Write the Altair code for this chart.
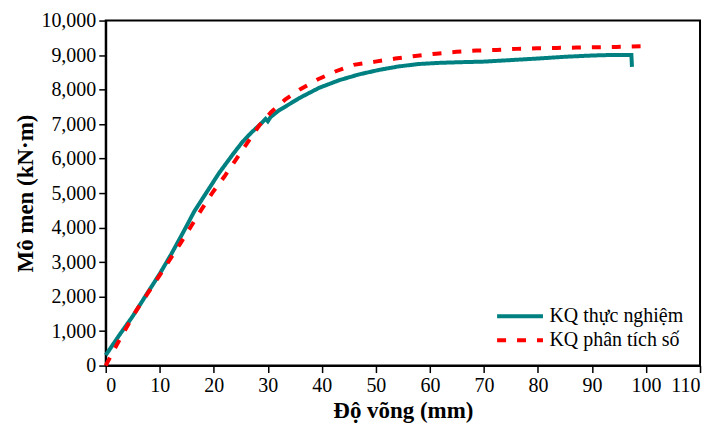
import altair as alt
import pandas as pd

# Experimental curve (teal, solid)
exp_x = [0, 2.6, 5.0, 7.5, 10.0, 12.1, 14.3, 16.4, 18.6, 21.0, 23.5, 25.3, 27.0, 28.4, 29.6, 30.0,
         30.5, 32.1, 33.5, 35.8, 39.5, 43.2, 46.9, 50.6, 54.2, 57.9, 61.6, 65.3, 70.0, 74.5, 80.0,
         85.0, 89.9, 93.0, 97.3, 97.4]
exp_y = [300, 900, 1430, 2050, 2660, 3220, 3850, 4470, 5005, 5585, 6116, 6480, 6760, 6960, 7150, 7080,
         7200, 7400, 7530, 7750, 8050, 8270, 8440, 8570, 8670, 8740, 8773, 8792, 8810, 8850, 8900,
         8950, 8986, 9000, 9000, 8660]

# Numerical analysis curve (red, dashed)
num_x = [0, 2.0, 3.8, 5.66, 7.7, 9.8, 11.8, 13.8, 15.8, 17.8, 19.8, 22.0, 24.1, 26.3, 28.4, 30.6,
         33.2, 36.1, 39.2, 42.6, 45.9, 49.9, 53.6, 57.3, 61.2, 64.9, 68.6, 72.3, 76.0, 79.8, 83.5,
         87.1, 90.8, 94.5, 99.0]
num_y = [0, 590, 1090, 1594, 2077, 2570, 3053, 3536, 4038, 4541, 5023, 5487, 5971, 6473, 6957, 7342,
         7710, 8019, 8290, 8531, 8715, 8810, 8898, 8975, 9040, 9093, 9130, 9150, 9179, 9197, 9208,
         9217, 9226, 9237, 9255]

series_names = ["KQ thực nghiệm", "KQ phân tích số"]
series_colors = ["#008080", "#FF0000"]
x_ticks = list(range(0, 111, 10))
y_ticks = list(range(0, 10001, 1000))

df = pd.concat([
    pd.DataFrame({"x": exp_x, "y": exp_y, "s": series_names[0], "o": list(range(len(exp_x)))}),
    pd.DataFrame({"x": num_x, "y": num_y, "s": series_names[1], "o": list(range(len(num_x)))}),
], ignore_index=True)

FONT = "Liberation Serif"

legend_props = dict(
    title=None, orient="none", legendX=402, legendY=283,
    symbolType="M-2,0H2", symbolSize=529, symbolStrokeWidth=4,
    symbolFillColor="transparent",
    labelFontSize=20, labelFont=FONT, labelColor="black", labelOffset=16,
    rowPadding=0, padding=0,
)

chart = alt.Chart(df).mark_line(strokeWidth=4, strokeCap="butt").encode(
    x=alt.X("x:Q", scale=alt.Scale(domain=[0, 110], nice=False),
            axis=alt.Axis(values=x_ticks, title="Độ võng (mm)", format="d",
                          titleY=52, titleBaseline="alphabetic")),
    y=alt.Y("y:Q", scale=alt.Scale(domain=[0, 10000], nice=False),
            axis=alt.Axis(values=y_ticks, title="Mô men (kN·m)", format=",d",
                          titleX=-73, titleY=173, titleAngle=270,
                          titleBaseline="alphabetic", titleAlign="center")),
    color=alt.Color("s:N", scale=alt.Scale(domain=series_names, range=series_colors),
                    legend=alt.Legend(**legend_props)),
    strokeDash=alt.StrokeDash("s:N", scale=alt.Scale(domain=series_names, range=[[1, 0], [9, 11]]),
                              legend=alt.Legend(**legend_props)),
    order="o:Q",
).properties(
    width=596, height=346,
    autosize=alt.AutoSizeParams(type="none"),
    padding={"left": 98, "top": 12, "right": 8, "bottom": 57},
).configure(
    font=FONT
).configure_view(
    stroke="black", strokeWidth=2
).configure_axis(
    grid=False, domainColor="black", domainWidth=2, tickColor="black", tickWidth=1.5,
    tickSize=7, labelPadding=3, labelFont=FONT, labelFontSize=20, labelColor="black",
    titleFont=FONT, titleFontSize=23, titleFontWeight="bold", titleColor="black",
)

chart.save("out.html", embed_options={"renderer": "svg", "actions": False})
